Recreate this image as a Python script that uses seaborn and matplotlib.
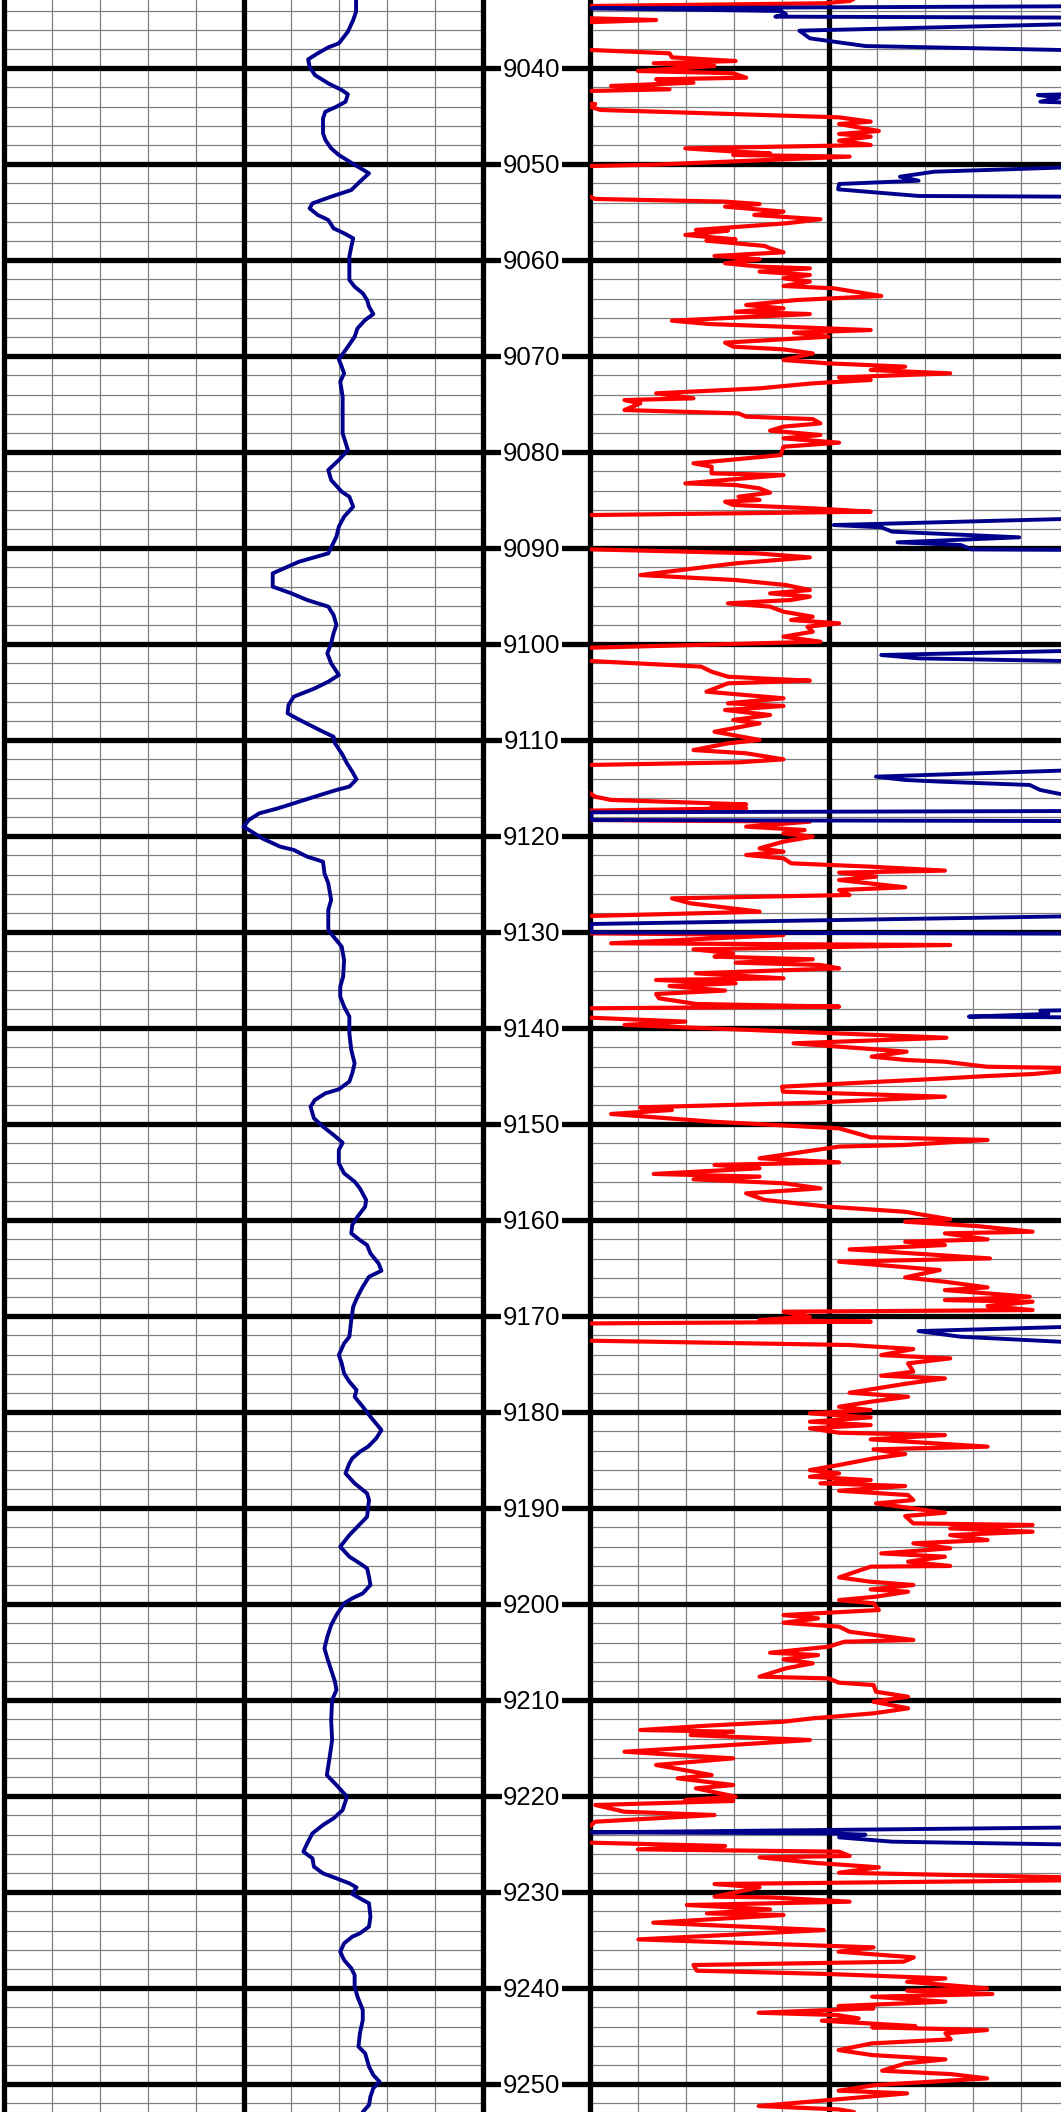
import matplotlib
matplotlib.use("Agg")
import matplotlib.pyplot as plt
import seaborn as sns
import numpy as np
import pandas as pd

# ---------------- data ----------------
gr_depth = [9032.89, 9034.10, 9034.97, 9036.18, 9037.40, 9037.82, 9038.44, 9039.07, 9039.83, 9040.70,
            9041.57, 9042.26, 9042.71, 9043.48, 9044.00, 9044.52, 9045.21, 9046.77, 9047.47, 9048.34,
            9049.03, 9049.90, 9050.94, 9051.81, 9052.68, 9053.37, 9054.07, 9054.59, 9055.28, 9055.80,
            9056.67, 9057.19, 9057.71, 9058.58, 9059.62, 9062.05, 9062.75, 9063.44, 9064.14, 9064.83,
            9065.60, 9066.22, 9067.09, 9067.96, 9069.00, 9070.32, 9071.08, 9071.78, 9072.65, 9074.21,
            9075.95, 9078.03, 9079.77, 9080.81, 9081.85, 9082.89, 9084.11, 9084.63, 9085.67, 9086.71,
            9087.75, 9088.79, 9090.53, 9091.40, 9092.61, 9094.00, 9094.70, 9095.39, 9096.08, 9096.95,
            9097.99, 9098.86, 9099.90, 9100.95, 9101.99, 9103.20, 9103.90, 9104.59, 9105.46, 9106.33,
            9107.19, 9107.72, 9108.41, 9109.11, 9109.63, 9110.32, 9111.36, 9112.40, 9113.27, 9114.07,
            9114.83, 9115.18, 9115.70, 9116.40, 9117.09, 9117.61, 9118.31, 9119.00, 9119.52, 9120.22,
            9121.09, 9121.43, 9122.13, 9122.65, 9123.86, 9124.91, 9126.64, 9127.68, 9129.77, 9130.46,
            9131.50, 9132.89, 9134.63, 9135.67, 9136.71, 9137.75, 9138.79, 9140.53, 9142.27, 9143.65,
            9144.70, 9145.56, 9146.36, 9146.78, 9147.47, 9148.17, 9149.38, 9150.25, 9151.12, 9151.92,
            9152.68, 9154.07, 9155.11, 9155.98, 9156.68, 9157.89, 9158.59, 9159.64, 9160.50, 9161.37,
            9162.07, 9162.59, 9163.46, 9164.50, 9165.26, 9165.89, 9166.93, 9167.97, 9169.01, 9170.40,
            9172.14, 9172.83, 9174.05, 9174.91, 9175.96, 9176.82, 9177.69, 9178.39, 9179.43, 9180.47,
            9181.86, 9182.73, 9183.59, 9184.12, 9184.81, 9185.33, 9186.37, 9187.41, 9188.46, 9189.15,
            9190.89, 9191.93, 9192.80, 9194.01, 9195.05, 9195.75, 9196.27, 9197.14, 9198.00, 9198.87,
            9199.39, 9199.91, 9201.13, 9202.17, 9203.39, 9204.60, 9205.64, 9206.86, 9208.07, 9208.94,
            9209.98, 9212.07, 9214.15, 9215.89, 9217.80, 9218.84, 9220.05, 9221.44, 9222.31, 9223.00,
            9223.87, 9224.91, 9225.78, 9226.48, 9227.34, 9228.04, 9228.56, 9229.08, 9229.50, 9230.19,
            9230.64, 9231.16, 9232.55, 9233.59, 9234.29, 9234.64, 9235.33, 9236.20, 9237.07, 9237.93,
            9238.63, 9239.84, 9240.89, 9242.27, 9243.32, 9244.71, 9246.09, 9246.79, 9248.18, 9249.05,
            9249.74, 9250.43, 9251.30, 9252.17, 9252.90]
gr_value = [73.5, 73.5, 72.9, 71.8, 69.9, 67.7, 65.5, 63.5, 63.8, 64.9,
            67.7, 70.5, 71.8, 71.3, 69.4, 67.1, 66.6, 66.6, 67.1, 68.3,
            69.9, 72.7, 76.2, 74.3, 72.5, 68.3, 64.4, 63.8, 65.5, 67.7,
            68.8, 71.0, 72.9, 72.5, 72.1, 72.1, 73.2, 74.9, 75.8, 76.2,
            77.1, 75.4, 73.8, 73.2, 71.8, 69.9, 70.5, 71.0, 70.2, 70.7,
            70.7, 70.7, 71.8, 69.9, 67.7, 68.3, 70.5, 72.1, 72.9, 71.0,
            69.9, 69.4, 67.7, 61.6, 56.1, 56.1, 60.0, 63.3, 67.7, 68.8,
            69.4, 68.8, 68.3, 67.5, 68.3, 69.9, 67.7, 64.9, 60.5, 59.4,
            59.2, 61.1, 63.8, 66.6, 68.8, 69.1, 70.5, 71.6, 72.7, 73.6,
            72.1, 69.4, 66.0, 61.6, 57.2, 53.3, 51.1, 50.0, 51.7, 53.9,
            57.7, 60.5, 63.3, 66.6, 66.9, 67.7, 68.3, 67.7, 67.7, 68.8,
            70.5, 71.0, 70.8, 70.2, 70.2, 71.0, 72.1, 72.1, 72.5, 73.2,
            72.7, 72.1, 69.9, 67.1, 64.9, 64.0, 64.7, 66.6, 68.8, 70.7,
            69.9, 69.9, 71.0, 73.2, 74.3, 75.6, 75.4, 73.8, 72.7, 72.5,
            74.3, 75.8, 76.5, 78.2, 78.8, 76.2, 74.9, 73.8, 72.9, 72.5,
            72.1, 71.0, 69.9, 70.5, 71.0, 72.1, 73.6, 73.2, 74.9, 76.5,
            78.8, 77.7, 76.0, 74.3, 72.7, 72.1, 71.3, 73.2, 75.8, 76.2,
            75.8, 73.8, 72.1, 70.2, 72.1, 74.3, 75.8, 76.2, 76.5, 74.9,
            72.7, 71.0, 69.4, 68.3, 67.5, 66.9, 67.5, 68.3, 69.1, 69.4,
            68.5, 68.3, 68.5, 68.0, 67.4, 69.4, 71.6, 70.7, 68.8, 66.6,
            64.4, 63.3, 62.5, 64.4, 64.7, 66.6, 69.4, 72.1, 73.6, 72.7,
            74.3, 76.2, 76.5, 76.2, 74.3, 72.7, 71.0, 70.2, 71.0, 72.5,
            73.2, 73.2, 73.8, 74.9, 74.9, 74.3, 74.0, 75.4, 76.2, 77.1,
            78.4, 77.1, 76.5, 76.2, 74.9]

red_depth = [9032.80, 9032.99, 9033.23, 9033.51, 9033.58, 9034.69, 9034.79, 9034.97, 9035.18, 9035.32,
             9038.02, 9038.09, 9038.44, 9038.86, 9039.24, 9039.48, 9039.76, 9040.28, 9040.52, 9040.98,
             9041.15, 9041.50, 9041.84, 9042.19, 9042.36, 9042.47, 9043.51, 9043.72, 9044.00, 9044.34,
             9045.11, 9045.56, 9045.80, 9046.53, 9046.84, 9047.12, 9047.54, 9047.99, 9048.34, 9048.68,
             9048.86, 9049.03, 9049.20, 9050.04, 9050.18, 9050.25, 9053.23, 9053.37, 9053.61, 9053.89,
             9054.14, 9054.41, 9054.93, 9055.28, 9055.73, 9056.15, 9056.84, 9056.91, 9057.36, 9057.82,
             9057.95, 9058.51, 9058.75, 9059.17, 9059.55, 9059.90, 9060.31, 9060.66, 9060.84, 9061.18,
             9061.53, 9061.88, 9062.22, 9062.68, 9062.92, 9063.72, 9064.14, 9064.66, 9065.01, 9065.36,
             9065.60, 9066.29, 9066.64, 9066.92, 9067.27, 9067.54, 9067.96, 9068.58, 9069.00, 9069.28,
             9069.70, 9070.39, 9070.74, 9071.08, 9071.43, 9071.78, 9072.20, 9072.47, 9072.82, 9073.34,
             9073.86, 9074.38, 9074.56, 9074.90, 9075.60, 9075.95, 9076.29, 9076.54, 9076.99, 9077.33,
             9077.75, 9078.20, 9078.55, 9079.00, 9079.42, 9080.29, 9081.15, 9081.50, 9082.20, 9082.37,
             9083.24, 9083.41, 9083.76, 9084.21, 9084.63, 9084.97, 9085.15, 9085.49, 9085.84, 9086.19,
             9086.54, 9086.64, 9090.01, 9090.11, 9090.53, 9090.95, 9091.57, 9092.79, 9093.31, 9093.83,
             9094.35, 9094.70, 9095.04, 9095.39, 9095.74, 9096.08, 9096.61, 9097.13, 9097.47, 9097.82,
             9098.17, 9098.69, 9099.21, 9099.73, 9100.36, 9100.46, 9101.64, 9101.74, 9102.33, 9102.86,
             9103.38, 9103.55, 9103.79, 9104.07, 9104.94, 9105.63, 9106.15, 9106.43, 9106.85, 9107.37,
             9107.89, 9108.24, 9109.11, 9109.97, 9110.32, 9111.02, 9111.36, 9111.99, 9112.30, 9112.58,
             9112.65, 9115.46, 9115.53, 9115.88, 9116.22, 9116.68, 9116.92, 9117.09, 9117.33, 9117.44,
             9118.20, 9118.31, 9118.48, 9119.00, 9119.35, 9119.70, 9120.04, 9120.56, 9121.26, 9121.61,
             9121.95, 9122.30, 9122.82, 9123.17, 9123.58, 9123.79, 9124.21, 9124.56, 9125.32, 9125.60,
             9126.12, 9126.47, 9126.99, 9127.86, 9128.31, 9128.38, 9130.04, 9130.11, 9130.29, 9131.15,
             9131.33, 9131.78, 9132.20, 9132.54, 9132.82, 9133.17, 9133.41, 9133.76, 9134.28, 9134.80,
             9134.97, 9135.32, 9135.60, 9136.08, 9136.43, 9136.88, 9137.47, 9137.75, 9137.92, 9138.03,
             9138.79, 9138.90, 9139.31, 9139.66, 9140.99, 9141.57, 9142.44, 9142.96, 9143.31, 9143.49,
             9144.01, 9144.18, 9144.77, 9144.98, 9145.22, 9146.09, 9146.61, 9147.13, 9147.76, 9148.24,
             9148.52, 9148.93, 9149.73, 9150.43, 9151.36, 9151.64, 9152.16, 9152.33, 9153.55, 9153.97,
             9154.24, 9154.59, 9155.18, 9155.46, 9155.74, 9156.15, 9156.68, 9157.20, 9157.89, 9158.59,
             9159.12, 9159.91, 9160.16, 9160.61, 9161.20, 9161.37, 9162.00, 9162.24, 9162.59, 9163.04,
             9163.46, 9163.98, 9164.32, 9165.19, 9165.96, 9166.41, 9167.00, 9167.28, 9167.97, 9168.32,
             9168.49, 9168.94, 9169.36, 9169.53, 9170.05, 9170.40, 9170.57, 9170.75, 9170.82, 9172.48,
             9172.55, 9173.00, 9173.42, 9174.05, 9174.39, 9174.91, 9175.78, 9176.20, 9176.48, 9177.00,
             9177.97, 9178.39, 9178.91, 9179.43, 9179.78, 9180.12, 9180.54, 9180.99, 9181.34, 9181.68,
             9182.14, 9182.38, 9182.83, 9183.59, 9183.87, 9184.36, 9184.81, 9185.50, 9186.03, 9186.37,
             9186.72, 9187.07, 9187.41, 9187.69, 9188.18, 9188.63, 9189.15, 9189.50, 9190.02, 9190.47,
             9190.82, 9191.58, 9191.75, 9192.10, 9192.45, 9192.80, 9193.32, 9193.66, 9194.18, 9194.71,
             9195.05, 9195.57, 9196.02, 9196.09, 9197.21, 9197.66, 9198.00, 9198.46, 9198.70, 9199.22,
             9199.57, 9199.91, 9200.61, 9201.13, 9201.48, 9201.93, 9202.34, 9202.87, 9203.73, 9203.91,
             9204.43, 9205.05, 9205.30, 9205.75, 9206.16, 9206.68, 9207.55, 9207.73, 9208.18, 9208.42,
             9209.12, 9209.64, 9210.16, 9210.85, 9211.37, 9211.89, 9212.24, 9212.66, 9213.11, 9213.28,
             9213.63, 9214.15, 9215.37, 9216.06, 9216.75, 9217.80, 9218.14, 9218.84, 9219.18, 9220.05,
             9220.40, 9220.50, 9220.92, 9221.62, 9221.96, 9222.66, 9223.11, 9223.18, 9224.74, 9224.84,
             9225.19, 9225.54, 9225.78, 9226.23, 9226.37, 9226.93, 9227.41, 9227.97, 9228.66, 9229.15,
             9229.50, 9230.47, 9230.54, 9230.99, 9231.34, 9231.79, 9232.21, 9232.38, 9233.18, 9233.95,
             9234.92, 9235.75, 9236.20, 9236.79, 9237.24, 9237.59, 9238.18, 9238.53, 9238.98, 9239.33,
             9240.02, 9240.26, 9240.61, 9240.89, 9241.41, 9241.86, 9242.10, 9242.56, 9242.80, 9243.15,
             9243.39, 9243.95, 9244.08, 9244.36, 9244.71, 9245.33, 9245.75, 9246.45, 9246.97, 9247.42,
             9247.83, 9248.60, 9248.95, 9249.40, 9250.09, 9250.68, 9250.96, 9252.28, 9252.63, 9252.90]
red_value = [55.0, 54.2, 48.7, 0.0, -8.8, -8.8, 0.0, 13.8, 1.1, -8.8,
             -8.8, 0.0, 16.6, 17.1, 30.4, 13.3, 26.0, 10.0, 29.9, 32.6,
             13.8, 21.6, 4.4, 16.6, 0.0, -8.8, -8.8, 1.1, 0.0, 2.2,
             52.0, 58.6, 52.0, 60.3, 52.0, 58.6, 52.0, 58.6, 19.9, 30.4,
             37.6, 29.9, 54.2, 13.3, 0.0, -8.8, -8.8, 0.0, 1.1, 28.2,
             35.4, 28.2, 40.4, 34.3, 48.1, 40.9, 22.1, 28.8, 19.9, 30.4,
             24.3, 36.5, 37.6, 40.4, 26.0, 35.4, 28.2, 35.4, 45.9, 35.4,
             45.9, 40.4, 45.9, 40.4, 50.9, 60.8, 43.1, 32.6, 40.4, 30.4,
             45.9, 17.1, 24.9, 40.4, 58.6, 42.6, 49.8, 28.2, 29.9, 40.4,
             46.5, 40.4, 49.8, 65.8, 58.6, 75.2, 52.0, 58.6, 46.5, 35.4,
             13.8, 21.6, 7.2, 10.5, 7.2, 31.0, 32.6, 46.5, 48.1, 40.4,
             37.6, 48.1, 40.4, 52.0, 40.4, 39.8, 21.6, 25.4, 25.4, 40.4,
             19.9, 30.4, 35.4, 37.6, 31.0, 35.4, 28.2, 29.9, 46.5, 58.6,
             0.0, -8.8, -8.8, 0.0, 34.8, 45.9, 30.4, 10.5, 30.4, 40.9,
             45.9, 37.6, 45.9, 42.0, 28.8, 37.6, 40.4, 46.5, 42.0, 52.0,
             45.4, 46.5, 40.4, 48.1, 0.0, -8.8, -8.8, 0.0, 23.2, 25.4,
             28.8, 35.4, 45.9, 28.8, 24.3, 40.4, 28.8, 40.4, 28.2, 37.6,
             29.9, 35.4, 26.0, 35.4, 28.8, 21.6, 32.6, 40.4, 31.0, 0.0,
             -8.8, -8.8, 0.0, 1.1, 4.4, 32.6, 25.4, 32.6, 0.0, -8.8,
             -8.8, 0.0, 45.9, 32.6, 44.8, 40.4, 46.5, 40.4, 35.4, 40.4,
             32.6, 40.4, 42.0, 58.6, 74.1, 52.0, 59.7, 52.0, 65.8, 52.0,
             54.2, 17.1, 21.0, 35.4, 0.0, -8.8, -8.8, 0.0, 40.4, 4.4,
             75.2, 21.6, 29.9, 26.0, 46.5, 30.4, 48.1, 52.0, 22.1, 40.4,
             13.8, 30.4, 16.6, 28.2, 13.8, 14.4, 22.1, 52.0, 0.0, -8.8,
             -8.8, 0.0, 19.9, 7.2, 74.4, 42.5, 66.1, 58.8, 66.1, 74.1,
             82.8, 105.0, 92.5, 82.8, 74.4, 40.1, 40.3, 74.1, 46.7, 10.5,
             17.1, 4.4, 25.4, 52.0, 58.6, 83.0, 65.8, 52.0, 35.4, 52.0,
             26.0, 35.4, 13.3, 35.4, 21.6, 40.4, 48.1, 32.6, 36.5, 49.8,
             65.8, 75.2, 65.8, 80.8, 92.4, 74.1, 83.0, 65.8, 74.1, 54.2,
             67.5, 83.5, 52.0, 73.0, 65.8, 74.1, 83.0, 74.1, 91.8, 74.1,
             92.4, 83.0, 92.4, 40.4, 45.9, 35.4, 58.6, 0.0, -8.8, -8.8,
             0.0, 54.2, 67.5, 60.8, 75.2, 66.4, 67.5, 60.8, 74.1, 66.4,
             54.2, 66.4, 58.6, 52.0, 58.6, 45.9, 58.6, 45.9, 58.6, 45.9,
             52.0, 74.1, 58.6, 83.0, 59.2, 65.8, 59.2, 52.0, 45.9, 52.0,
             45.9, 58.6, 48.1, 65.8, 52.0, 66.4, 67.5, 59.7, 67.5, 74.1,
             65.8, 67.5, 92.4, 75.2, 92.4, 75.2, 83.0, 67.5, 75.2, 60.8,
             74.1, 66.4, 75.2, 58.6, 52.0, 58.6, 67.5, 58.6, 66.4, 59.7,
             52.0, 59.2, 60.3, 40.4, 47.6, 40.4, 52.0, 54.2, 67.5, 53.1,
             49.8, 37.6, 47.6, 40.4, 46.5, 40.9, 35.4, 49.8, 52.0, 59.2,
             59.7, 66.4, 59.2, 66.4, 59.2, 46.5, 40.4, 24.3, 10.5, 29.9,
             21.0, 45.9, 7.2, 29.9, 13.8, 25.4, 18.3, 29.9, 22.1, 30.4,
             19.9, 29.9, 1.1, 7.2, 26.0, 1.1, 0.0, -8.8, -8.8, 0.0,
             28.2, 10.0, 52.0, 54.2, 35.4, 46.5, 60.3, 52.0, 120.0, 26.0,
             35.4, 26.0, 37.6, 54.2, 20.2, 37.6, 24.4, 40.4, 13.2, 48.8,
             10.1, 59.2, 51.9, 67.6, 65.5, 21.6, 22.3, 50.2, 74.2, 66.2,
             82.9, 66.2, 84.0, 58.9, 74.2, 51.9, 59.2, 35.2, 51.6, 56.1,
             48.4, 67.9, 58.9, 82.9, 74.2, 75.3, 58.9, 51.9, 58.9, 74.2,
             65.9, 61.0, 75.3, 82.9, 59.6, 51.9, 66.2, 35.2, 51.9, 55.1]

blue_depth = [9032.80, 9033.48, 9033.75, 9034.03, 9034.34, 9034.62, 9034.76, 9035.04, 9036.08, 9036.88,
              9037.68, 9038.09, 9038.20, 9042.33, 9042.78, 9043.06, 9043.48, 9044.07, 9049.83, 9050.77,
              9051.29, 9051.71, 9052.05, 9052.61, 9053.30, 9053.44, 9086.54, 9087.58, 9087.82, 9088.27,
              9088.86, 9089.38, 9089.66, 9090.11, 9090.25, 9100.36, 9101.12, 9101.47, 9101.74, 9101.78,
              9112.65, 9113.79, 9114.14, 9114.31, 9114.66, 9115.18, 9115.60, 9115.88, 9117.33, 9117.51,
              9118.31, 9118.45, 9128.10, 9129.14, 9130.01, 9130.18, 9137.92, 9138.17, 9138.51, 9138.79,
              9138.97, 9170.68, 9171.55, 9172.14, 9172.66, 9172.83, 9223.11, 9223.77, 9223.87, 9224.01,
              9224.29, 9224.74, 9225.02, 9225.09, 9252.90]
blue_value = [130.0, 130.0, 0.3, 39.8, 40.9, 38.7, 130.0, 130.0, 43.7, 45.9,
              57.5, 98.2, 130.0, 130.0, 93.5, 97.9, 94.0, 130.0, 130.0, 71.9,
              64.7, 68.6, 52.0, 51.8, 68.6, 130.0, 130.0, 50.9, 60.8, 63.1,
              89.6, 64.2, 77.4, 79.6, 130.0, 130.0, 60.8, 68.6, 98.2, 130.0,
              130.0, 59.7, 65.8, 73.0, 91.8, 94.0, 98.2, 130.0, 130.0, 0.3,
              0.3, 130.0, 130.0, 0.3, 0.3, 130.0, 130.0, 94.0, 95.7, 79.1,
              130.0, 130.0, 68.6, 77.4, 98.2, 130.0, 130.0, 0.3, 49.8, 57.5,
              52.0, 63.1, 98.2, 130.0, 130.0]

depth_labels = list(range(9040, 9251, 10))

# ---------------- figure ----------------
sns.set_theme(style="white")
plt.rcParams['font.family'] = ['Liberation Sans', 'DejaVu Sans']

W, H = 1061, 2112
fig = plt.figure(figsize=(W / 100, H / 100), dpi=100)
fig.patch.set_facecolor('white')

TOP, BOT = 9032.885, 9252.9
TW = 479
ax1 = fig.add_axes([4 / W, 0, TW / W, 1])
axd = fig.add_axes([483 / W, 0, 107 / W, 1])
ax2 = fig.add_axes([590 / W, 0, TW / W, 1])

THICK = 3.8
THIN = 0.9
GRAY = '#808080'
NAVY = '#00008C'

minor = [d for d in range(9034, 9254, 2) if d % 10 != 0]

for ax in (ax1, ax2, axd):
    ax.set_facecolor('none')
    for s in ax.spines.values():
        s.set_visible(False)
    ax.grid(False)

for ax in (ax1, ax2):
    for d in minor:
        ax.axhline(d, color=GRAY, lw=THIN, zorder=1)
    for x in range(10, 100, 10):
        if x != 50:
            ax.axvline(x, color=GRAY, lw=THIN, zorder=1)
    for d in depth_labels:
        ax.axhline(d, color='black', lw=THICK, zorder=2)

gr_df = pd.DataFrame({'depth': gr_depth, 'GR': gr_value})
red_df = pd.DataFrame({'depth': red_depth, 'val': red_value})
blue_df = pd.DataFrame({'depth': blue_depth, 'val': blue_value})

sns.lineplot(data=gr_df, x='GR', y='depth', ax=ax1, sort=False, estimator=None,
             orient='y', color=NAVY, lw=2.8, zorder=5, legend=False)
sns.lineplot(data=red_df, x='val', y='depth', ax=ax2, sort=False, estimator=None,
             orient='y', color='#FF0000', lw=3.0, zorder=5, legend=False)
sns.lineplot(data=blue_df, x='val', y='depth', ax=ax2, sort=False, estimator=None,
             orient='y', color=NAVY, lw=2.8, zorder=6, legend=False)

for ax in (ax1, ax2):
    ax.set_xlim(0, 100)
    for x in (0, 50, 100):
        ax.axvline(x, color='black', lw=THICK, zorder=3, clip_on=False)

axd.set_xlim(0, 1)
for d in depth_labels:
    axd.axhline(d, color='black', lw=THICK, zorder=2)
    axd.text(0.455, d + 0.15, str(d), ha='center', va='center', fontsize=18.5,
             color='black', zorder=4,
             bbox=dict(boxstyle='square,pad=0.06', fc='white', ec='none'))

for ax in (ax1, ax2, axd):
    ax.set_ylim(BOT, TOP)
    ax.set_xticks([])
    ax.set_yticks([])
    ax.set_xlabel('')
    ax.set_ylabel('')

fig.savefig('out.png', dpi=100, facecolor='white')
